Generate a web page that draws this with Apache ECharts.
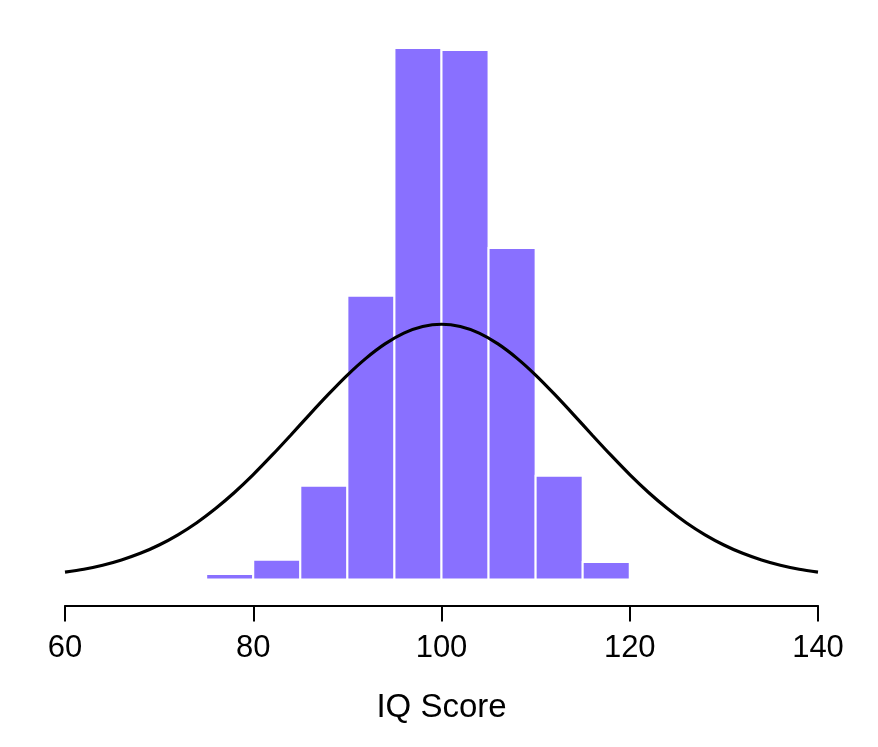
<!DOCTYPE html>
<html>
<head>
<meta charset="utf-8">
<script src="https://cdn.jsdelivr.net/npm/echarts@6/dist/echarts.min.js"></script>
<style>
html,body{margin:0;padding:0;background:#fff;}
#chart{width:878px;height:747px;}
</style>
</head>
<body>
<div id="chart"></div>
<script>
// Histogram bins (IQ score edges) and density heights
var binStart = [75, 80, 85, 90, 95, 100, 105, 110, 115];
var binEnd   = [80, 85, 90, 95, 100, 105, 110, 115, 120];
var binDensity = [0.00057, 0.00206, 0.00977, 0.02957, 0.05539, 0.05518, 0.03455, 0.01082, 0.00182];

// Normal curve points
var curveX = [60, 62, 64, 66, 68, 70, 72, 74, 76, 78, 80, 82, 84, 86, 88, 90, 92, 94, 96, 98, 100,
              102, 104, 106, 108, 110, 112, 114, 116, 118, 120, 122, 124, 126, 128, 130, 132, 134, 136, 138, 140];
var curveY = [0.00076, 0.00107, 0.00149, 0.00204, 0.00273, 0.00360, 0.00466, 0.00592, 0.00740, 0.00907,
              0.01093, 0.01295, 0.01506, 0.01721, 0.01931, 0.02130, 0.02307, 0.02455, 0.02567, 0.02636, 0.02660,
              0.02636, 0.02567, 0.02455, 0.02307, 0.02130, 0.01931, 0.01721, 0.01506, 0.01295,
              0.01093, 0.00907, 0.00740, 0.00592, 0.00466, 0.00360, 0.00273, 0.00204, 0.00149, 0.00107, 0.00076];

var xTicks = [60, 80, 100, 120, 140];
var axisTitle = 'IQ Score';

var barData = binStart.map(function (s, i) { return [s, binEnd[i], binDensity[i]]; });
var lineData = curveX.map(function (x, i) { return [x, curveY[i]]; });

var chart = echarts.init(document.getElementById('chart'), null, {renderer: 'canvas'});
chart.setOption({
  animation: false,
  backgroundColor: '#ffffff',
  grid: {left: 65, right: 60, top: 22.9, bottom: 167.5, containLabel: false},
  xAxis: {
    type: 'value',
    min: xTicks[0],
    max: xTicks[xTicks.length - 1],
    interval: 20,
    offset: 26,
    name: axisTitle,
    nameLocation: 'middle',
    nameGap: 86,
    nameTextStyle: {color: '#000', fontSize: 33, fontFamily: 'Liberation Sans'},
    axisLine: {show: true, onZero: false, lineStyle: {color: '#000', width: 2}},
    axisTick: {show: true, length: 16, lineStyle: {color: '#000', width: 2}},
    axisLabel: {color: '#000', fontSize: 31, fontFamily: 'Liberation Sans', margin: 27},
    splitLine: {show: false}
  },
  yAxis: {
    type: 'value',
    min: 0,
    max: 0.058,
    show: false,
    splitLine: {show: false}
  },
  series: [
    {
      type: 'custom',
      data: barData,
      encode: {x: [0, 1], y: 2},
      renderItem: function (params, api) {
        var p0 = api.coord([api.value(0), api.value(2)]);
        var p1 = api.coord([api.value(1), 0]);
        return {
          type: 'rect',
          shape: {x: p0[0], y: p0[1], width: p1[0] - p0[0], height: p1[1] - p0[1]},
          style: {fill: '#8970ff', stroke: '#ffffff', lineWidth: 2}
        };
      },
      z: 1
    },
    {
      type: 'line',
      data: lineData,
      smooth: 0.3,
      symbol: 'none',
      lineStyle: {color: '#000', width: 3.2},
      z: 3
    }
  ]
});
</script>
</body>
</html>
